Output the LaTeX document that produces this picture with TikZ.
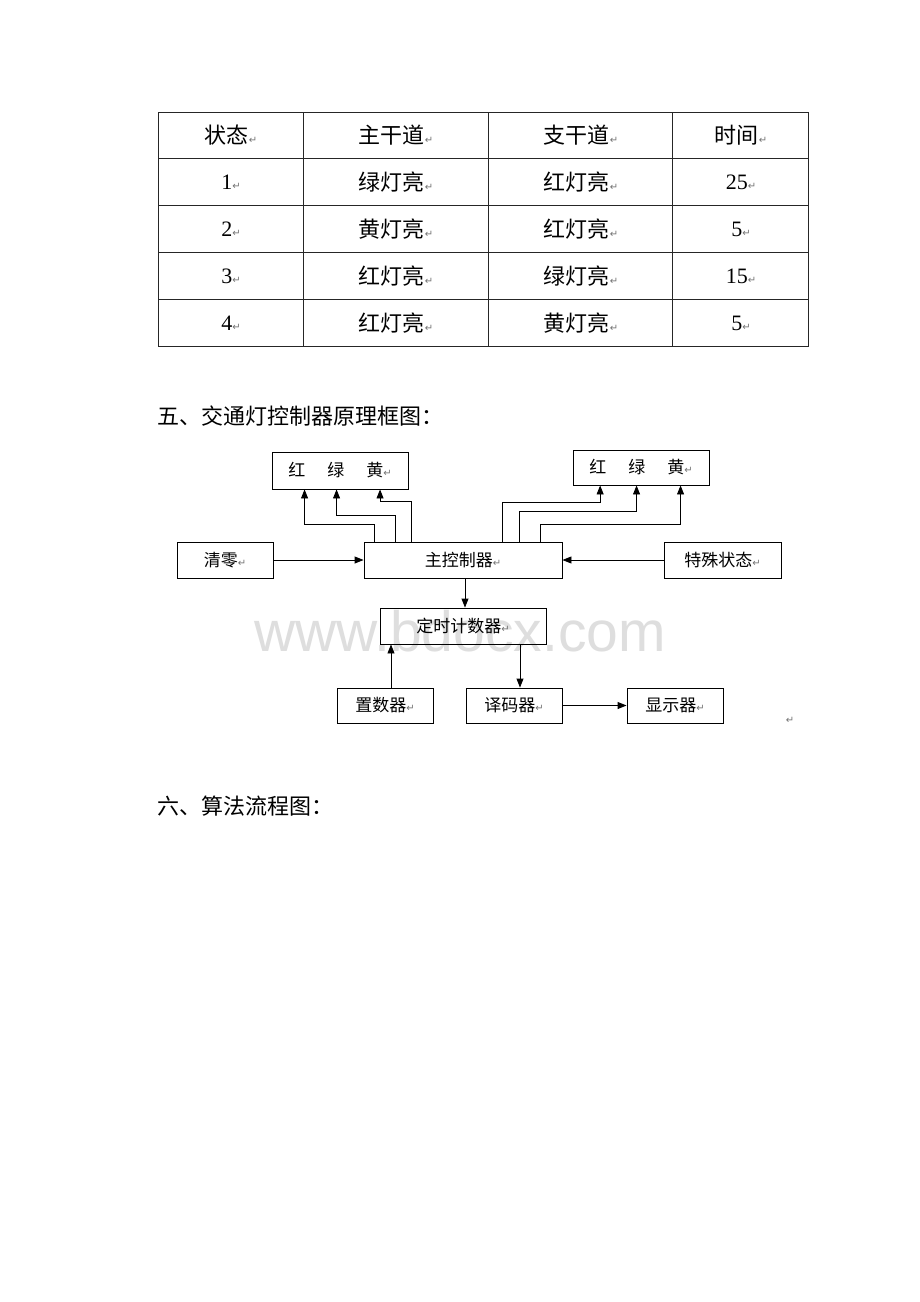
\documentclass[tikz,border=0pt]{standalone}
\usepackage{fontspec}
\usetikzlibrary{arrows.meta}
\newfontfamily\cjk{Noto Sans CJK SC}
\newfontfamily\symf{DejaVu Sans}
\newfontfamily\numf{Liberation Serif}
\newfontfamily\wmf{Liberation Sans}
\newcommand\pmark{{\symf\fontsize{10}{10}\selectfont\textcolor{black!55}{↵}}}
\begin{document}
\begin{tikzpicture}[x=1pt,y=-1pt,
  tbl/.style={line width=1pt,draw=black!85},
  cell/.style={font=\cjk\fontsize{22}{22}\selectfont,inner sep=0pt,anchor=center},
  numcell/.style={font=\numf\fontsize{22}{22}\selectfont,inner sep=0pt,anchor=center},
  heading/.style={font=\cjk\fontsize{22}{22}\selectfont,inner sep=0pt,anchor=west},
  blk/.style={draw,line width=0.9pt,inner sep=0pt,font=\cjk\fontsize{17}{17}\selectfont},
  arr/.style={line width=0.9pt,-{Triangle[length=9pt,width=7pt]}},
]
\useasboundingbox[fill=white] (0,0) rectangle (920,1302);

% ---------- table ----------
\draw[tbl] (158,112) rectangle (808,346);
\foreach \x in {303,488,672} \draw[tbl] (\x,112) -- (\x,346);
\foreach \y in {158,205,252,299} \draw[tbl] (158,\y) -- (808,\y);

\node[cell] (h1) at (231,135) {状态\pmark};
\node[cell] (h2) at (396,135) {主干道\pmark};
\node[cell] (h3) at (581,135) {支干道\pmark};
\node[cell] (h4) at (741,135) {时间\pmark};

\node[numcell] (r1c1) at (231,182) {1\pmark};
\node[cell] (r1c2) at (396,182) {绿灯亮\pmark};
\node[cell] (r1c3) at (581,182) {红灯亮\pmark};
\node[numcell] (r1c4) at (741,182) {25\pmark};

\node[numcell] (r2c1) at (231,229) {2\pmark};
\node[cell] (r2c2) at (396,229) {黄灯亮\pmark};
\node[cell] (r2c3) at (581,229) {红灯亮\pmark};
\node[numcell] (r2c4) at (741,229) {5\pmark};

\node[numcell] (r3c1) at (231,276) {3\pmark};
\node[cell] (r3c2) at (396,276) {红灯亮\pmark};
\node[cell] (r3c3) at (581,276) {绿灯亮\pmark};
\node[numcell] (r3c4) at (741,276) {15\pmark};

\node[numcell] (r4c1) at (231,323) {4\pmark};
\node[cell] (r4c2) at (396,323) {红灯亮\pmark};
\node[cell] (r4c3) at (581,323) {黄灯亮\pmark};
\node[numcell] (r4c4) at (741,323) {5\pmark};

% ---------- headings ----------
\node[heading] (t5) at (157,416) {五、交通灯控制器原理框图：};
\node[heading] (t6) at (157,806) {六、算法流程图：};

% ---------- watermark ----------
\node[font=\wmf\fontsize{57}{57}\selectfont,text=black!13,inner sep=0pt] (wm) at (460,631) {www.bdocx.com};

% ---------- block diagram ----------
\node[blk,minimum width=136pt,minimum height=37pt] (Llight) at (340,470.5) {红\hspace{22pt}绿\hspace{22pt}黄\pmark};
\node[blk,minimum width=136pt,minimum height=35pt] (Rlight) at (641,467.5) {红\hspace{22pt}绿\hspace{22pt}黄\pmark};
\node[blk,minimum width=96pt,minimum height=36pt] (clr) at (225,560) {清零\pmark};
\node[blk,minimum width=198pt,minimum height=36pt] (main) at (463,560) {主控制器\pmark};
\node[blk,minimum width=117pt,minimum height=36pt] (spec) at (722.5,560) {特殊状态\pmark};
\node[blk,minimum width=166pt,minimum height=36pt] (timer) at (463,626) {定时计数器\pmark};
\node[blk,minimum width=96pt,minimum height=35pt] (preset) at (385,705.5) {置数器\pmark};
\node[blk,minimum width=96pt,minimum height=35pt] (dec) at (514,705.5) {译码器\pmark};
\node[blk,minimum width=96pt,minimum height=35pt] (disp) at (675,705.5) {显示器\pmark};
\node[inner sep=0pt] (stray) at (790,720) {\pmark};

% connectors
\draw[arr] (clr.east) -- (main.west);
\draw[arr] (spec.west) -- (main.east);
\draw[arr] ([xshift=2pt]main.south) -- ([xshift=2pt]timer.north);
\draw[arr] ([xshift=6pt]preset.north) -- ([xshift=6pt]preset.north |- timer.south);
\draw[arr] ([xshift=6pt]dec.north |- timer.south) -- ([xshift=6pt]dec.north);
\draw[arr] (dec.east) -- (disp.west);

\draw[arr] ([xshift=11pt]main.north west) -- ++(0,-17) -| ([xshift=33pt]Llight.south west);
\draw[arr] ([xshift=32pt]main.north west) -- ++(0,-26) -| ([xshift=65pt]Llight.south west);
\draw[arr] ([xshift=48pt]main.north west) -- ++(0,-40) -| ([xshift=108.5pt]Llight.south west);

\draw[arr] ([xshift=139pt]main.north west) -- ++(0,-39) -| ([xshift=27.6pt]Rlight.south west);
\draw[arr] ([xshift=156pt]main.north west) -- ++(0,-30) -| ([xshift=64pt]Rlight.south west);
\draw[arr] ([xshift=177pt]main.north west) -- ++(0,-17) -| ([xshift=108pt]Rlight.south west);
\end{tikzpicture}
\end{document}
